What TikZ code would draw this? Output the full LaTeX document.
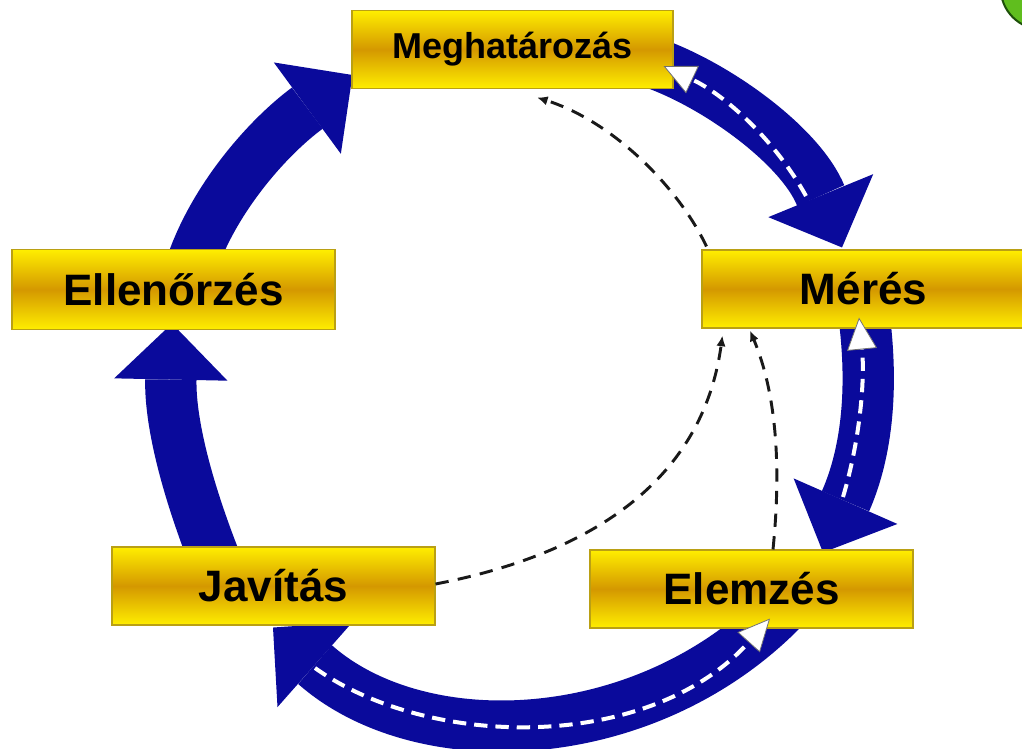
\documentclass[tikz,border=0pt]{standalone}
\usepackage{fontspec}
\setmainfont{Liberation Sans}
\usetikzlibrary{arrows.meta,calc}
\definecolor{cycblue}{RGB}{10,10,155}
\definecolor{boxyel}{RGB}{255,238,0}
\definecolor{boxgold}{RGB}{212,152,0}
\definecolor{boxedge}{RGB}{186,160,20}
\definecolor{ballgreen}{RGB}{96,190,30}
\definecolor{balledge}{RGB}{30,80,10}
\pgfdeclarelayer{bg}
\pgfsetlayers{bg,main}
\begin{document}
\begin{tikzpicture}[x=0.75pt,y=-0.75pt,
  stagebox/.style={rectangle, draw=boxedge, line width=0.8pt,
    top color=boxyel, bottom color=boxyel, middle color=boxgold,
    minimum width=242.25pt, minimum height=58.5pt, inner sep=0pt,
    font=\bfseries\fontsize{33}{36}\selectfont, text=black},
  bigarrow/.style={draw=cycblue, line width=38.5pt, line cap=butt,
    -{Triangle[width=85pt,length=42pt,line width=0pt]}},
  whitearrow/.style={draw=white, line width=3pt, dash pattern=on 10pt off 6pt,
    -{Triangle[width=22.5pt,length=24pt,line width=0.6pt,color=black!55,fill=white]}},
  flowdash/.style={draw=black!90, line width=2.2pt, dash pattern=on 10pt off 7pt,
    -{Latex[length=8pt,width=7pt]}}
]
\useasboundingbox (0,0) rectangle (1022,749);

% boxes
\node[stagebox, minimum width=240.75pt, font=\bfseries\fontsize{27}{30}\selectfont] (megh) at (512.5,49.5) {Meghatározás};
\node[stagebox] (meres) at (863.5,289) {Mérés};
\node[stagebox, minimum height=60pt] (ellen) at (173.5,289.5) {Ellenőrzés};
\node[stagebox] (javitas) at (273.5,586) {Javítás};
\node[stagebox] (elemzes) at (751.5,589) {Elemzés};

\begin{pgfonlayer}{bg}
\fill[white] (0,0) rectangle (1022,749);
% big blue cycle arrows
\draw[bigarrow] ($(ellen.north)+(16.5,20.5)$) .. controls (212,200) and (268,137) .. ($(megh.west)+(1,25.5)$);
\draw[bigarrow] ($(megh.east)+(-23,12.5)$) .. controls (715,84) and (800,145) .. ($(meres.north)+(-21.5,-2)$);
\draw[bigarrow] ($(meres.south)+(0.5,-13)$) .. controls (873,385) and (868,450) .. ($(elemzes.north)+(71.5,3)$);
\draw[bigarrow] ($(elemzes.south)+(34.5,-23)$) .. controls (649,749) and (422,759) .. ($(javitas.south)+(-0.5,2)$);
\draw[bigarrow] ($(javitas.north)+(-55.5,21)$) .. controls (185,485) and (170,420) .. ($(ellen.south)+(-1.5,-6.5)$);
\end{pgfonlayer}

% white dashed return arrows
\coordinate (w1s) at (806,196);
\coordinate (w2s) at (843,497);
\coordinate (w3s) at (315,668);
\draw[whitearrow] (w1s) .. controls (775,140) and (725,95) .. ($(megh.east)+(-10,16.5)$);
\draw[whitearrow] (w2s) .. controls (860,440) and (865,380) .. ($(meres.south)+(-4.5,-11)$);
\draw[whitearrow] (w3s) .. controls (430,750) and (650,752) .. ($(elemzes.south)+(18.5,-10)$);

% black dashed connectors
\draw[flowdash] ($(meres.north west)+(5,-3)$) .. controls (680,190) and (615,122) .. ($(megh.south)+(24.5,8.5)$);
\draw[flowdash] ($(javitas.east)+(0,-2)$) .. controls (560,560) and (700,500) .. ($(meres.south west)+(21,7)$);
\draw[flowdash] ($(elemzes.north)+(21.5,0)$) .. controls (782,460) and (775,390) .. ($(meres.south)+(-113.5,2)$);

% green ball, top right corner
\filldraw[fill=ballgreen, draw=balledge, line width=1.5pt] (1042,-12) circle [radius=31pt];
\end{tikzpicture}
\end{document}
